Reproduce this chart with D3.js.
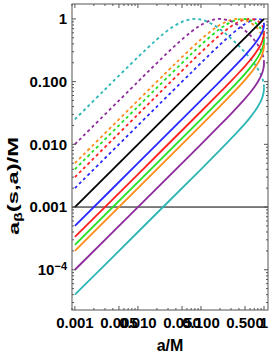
<!DOCTYPE html>
<html>
<head>
<meta charset="utf-8">
<script src="https://cdn.jsdelivr.net/npm/d3@7"></script>
<style>
  body { margin: 0; background: #fff; }
  text { font-family: "Liberation Sans", Arial, sans-serif; font-weight: bold; fill: #000; }
</style>
</head>
<body>
<div class="chart"></div>
<script>
// [a/M, a_beta/M] pairs
var blueSolid = [[0.001, 0.0005], [0.01, 0.005], [0.1, 0.0501], [0.2, 0.1008], [0.3, 0.1526], [0.4, 0.2065], [0.5, 0.263], [0.6, 0.324], [0.7, 0.392], [0.8, 0.471], [0.9, 0.571], [0.95, 0.640], [0.98, 0.700], [0.995, 0.751], [1, 0.8]];
var blueDashed = [[0.001, 0.002], [0.01, 0.02], [0.05, 0.0998], [0.1, 0.1985], [0.2, 0.388], [0.3, 0.561], [0.4, 0.711], [0.5, 0.833], [0.6, 0.923], [0.7, 0.980], [0.8, 1.0], [0.9, 0.975], [0.95, 0.935], [0.98, 0.890], [0.995, 0.847], [1, 0.8]];

var redSolid = [[0.001, 0.000333], [0.01, 0.00333], [0.1, 0.0334], [0.2, 0.0673], [0.3, 0.1021], [0.4, 0.1385], [0.5, 0.1772], [0.6, 0.2195], [0.7, 0.2673], [0.8, 0.3243], [0.9, 0.4004], [0.95, 0.4561], [0.98, 0.5072], [0.995, 0.5528], [1, 0.6]];
var redDashed = [[0.001, 0.003], [0.01, 0.03], [0.05, 0.149], [0.1, 0.294], [0.2, 0.555], [0.3, 0.760], [0.4, 0.900], [0.5, 0.977], [0.6, 1.0], [0.7, 0.980], [0.8, 0.923], [0.9, 0.829], [0.95, 0.760], [0.98, 0.699], [0.995, 0.649], [1, 0.6]];

var greenSolid = [[0.001, 0.00025], [0.01, 0.0025], [0.1, 0.02506], [0.2, 0.0505], [0.3, 0.0767], [0.4, 0.1041], [0.5, 0.1334], [0.6, 0.1655], [0.7, 0.2021], [0.8, 0.2462], [0.9, 0.3059], [0.95, 0.3505], [0.98, 0.3923], [0.995, 0.4303], [1, 0.4706]];
var greenDashed = [[0.001, 0.004], [0.01, 0.04], [0.05, 0.198], [0.1, 0.3855], [0.2, 0.695], [0.3, 0.892], [0.4, 0.984], [0.47, 1.0], [0.6, 0.96], [0.7, 0.891], [0.8, 0.8], [0.9, 0.688], [0.95, 0.617], [0.98, 0.559], [0.995, 0.5135], [1, 0.4706]];

var orangeSolid = [[0.001, 0.0002], [0.01, 0.002], [0.1, 0.02005], [0.2, 0.0404], [0.3, 0.0614], [0.4, 0.0834], [0.5, 0.1069], [0.6, 0.1327], [0.7, 0.1623], [0.8, 0.198], [0.9, 0.2468], [0.95, 0.2836], [0.98, 0.3184], [0.995, 0.3504], [1, 0.3846]];
var orangeDashed = [[0.001, 0.005], [0.01, 0.05], [0.03, 0.1492], [0.05, 0.2463], [0.1, 0.4716], [0.15, 0.6603], [0.2, 0.805], [0.3, 0.966], [0.385, 1.0], [0.5, 0.9587], [0.6, 0.882], [0.7, 0.790], [0.8, 0.690], [0.9, 0.579], [0.95, 0.513], [0.98, 0.462], [0.995, 0.4216], [1, 0.3846]];

var purpleSolid = [[0.001, 0.0001], [0.01, 0.001], [0.1, 0.01002], [0.2, 0.0202], [0.3, 0.0307], [0.4, 0.0417], [0.5, 0.0536], [0.6, 0.0666], [0.7, 0.0816], [0.8, 0.0998], [0.9, 0.1249], [0.95, 0.144], [0.98, 0.1624], [0.995, 0.1795], [1, 0.198]];
var purpleDashed = [[0.001, 0.01], [0.01, 0.0998], [0.02, 0.198], [0.04, 0.385], [0.07, 0.624], [0.1, 0.801], [0.15, 0.9615], [0.2, 1.0], [0.3, 0.915], [0.4, 0.779], [0.5, 0.655], [0.6, 0.5505], [0.7, 0.462], [0.8, 0.385], [0.9, 0.311], [0.95, 0.271], [0.98, 0.241], [0.995, 0.218], [1, 0.198]];

var cyanSolid = [[0.001, 0.00004], [0.01, 0.0004], [0.1, 0.004], [0.2, 0.00808], [0.3, 0.0123], [0.4, 0.0167], [0.5, 0.0214], [0.6, 0.0267], [0.7, 0.0327], [0.8, 0.04], [0.9, 0.0501], [0.95, 0.0579], [0.98, 0.0653], [0.995, 0.0723], [1, 0.0799]];
var cyanDashed = [[0.001, 0.025], [0.003, 0.0749], [0.01, 0.246], [0.02, 0.471], [0.03, 0.658], [0.05, 0.899], [0.08, 1.0], [0.12, 0.922], [0.2, 0.685], [0.3, 0.488], [0.4, 0.370], [0.5, 0.292], [0.6, 0.237], [0.7, 0.194], [0.8, 0.159], [0.9, 0.127], [0.95, 0.110], [0.98, 0.0977], [0.995, 0.0883], [1, 0.0799]];

var diagonal = [[0.001, 0.001], [1, 1]];
var refLevel = 0.001;

var xTickValues = [0.001, 0.005, 0.01, 0.05, 0.1, 0.5, 1];
var xTickLabels = ["0.001", "0.005", "0.010", "0.050", "0.100", "0.500", "1"];
var yTickValues = [1e-4, 0.001, 0.01, 0.1, 1];
var yTickLabels = ["10^-4", "0.001", "0.010", "0.100", "1"];

var svgWidth = 273;
var svgHeight = 359;

var margin = {
  top: 4,
  right: 5,
  bottom: 49,
  left: 72
};

var width = svgWidth - margin.left - margin.right;
var height = svgHeight - margin.top - margin.bottom;

var svg = d3.select(".chart")
  .append("svg")
  .attr("width", svgWidth)
  .attr("height", svgHeight);

var chartGroup = svg.append("g")
  .attr("transform", `translate(${margin.left}, ${margin.top})`);

var xScale = d3.scaleLog().domain([0.0009, 1.157]).range([0, width]);
var yScale = d3.scaleLog().domain([2.28e-5, 1.73]).range([height, 0]);

svg.append("defs").append("clipPath")
  .attr("id", "plotClip")
  .append("rect")
  .attr("width", width)
  .attr("height", height);

var plot = chartGroup.append("g").attr("clip-path", "url(#plotClip)");

var line = d3.line()
  .x(d => xScale(d[0]))
  .y(d => yScale(d[1]))
  .curve(d3.curveCatmullRom.alpha(0.5));

var series = [
  { color: "#2a2aff", solid: blueSolid, dashed: blueDashed },
  { color: "#ff2020", solid: redSolid, dashed: redDashed },
  { color: "#22e022", solid: greenSolid, dashed: greenDashed },
  { color: "#ff8c1a", solid: orangeSolid, dashed: orangeDashed },
  { color: "#8e2b9c", solid: purpleSolid, dashed: purpleDashed },
  { color: "#2db6b6", solid: cyanSolid, dashed: cyanDashed }
];

// reference line at a_beta = 0.001
plot.append("line")
  .attr("x1", 0)
  .attr("x2", width)
  .attr("y1", yScale(refLevel))
  .attr("y2", yScale(refLevel))
  .attr("stroke", "#000")
  .attr("stroke-width", 1);

// dashed branches
series.forEach(function (s) {
  plot.append("path")
    .datum(s.dashed)
    .attr("d", line)
    .attr("fill", "none")
    .attr("stroke", s.color)
    .attr("stroke-width", 1.8)
    .attr("stroke-dasharray", "3,3");
});

plot.append("path")
  .datum(diagonal)
  .attr("d", line)
  .attr("fill", "none")
  .attr("stroke", "#000")
  .attr("stroke-width", 1.8);

// solid branches
series.forEach(function (s) {
  plot.append("path")
    .datum(s.solid)
    .attr("d", line)
    .attr("fill", "none")
    .attr("stroke", s.color)
    .attr("stroke-width", 1.8);
});

// minor tick positions (2..9 times each decade)
function minorTicks(scale, majors) {
  var d = scale.domain(), out = [];
  for (var e = -6; e <= 1; e++) {
    for (var m = 1; m <= 9; m++) {
      var v = m * Math.pow(10, e);
      if (v >= d[0] && v <= d[1] && !majors.some(t => Math.abs(t - v) / v < 1e-6)) out.push(v);
    }
  }
  return out;
}

var tickGroup = chartGroup.append("g").attr("stroke", "#555").attr("stroke-width", 1);

function drawTicks(values, len) {
  values.forEach(function (v) {
    var px = xScale(v);
    tickGroup.append("line").attr("x1", px).attr("x2", px).attr("y1", height).attr("y2", height - len);
    tickGroup.append("line").attr("x1", px).attr("x2", px).attr("y1", 0).attr("y2", len);
  });
}
function drawYTicks(values, len) {
  values.forEach(function (v) {
    var py = yScale(v);
    tickGroup.append("line").attr("x1", 0).attr("x2", len).attr("y1", py).attr("y2", py);
    tickGroup.append("line").attr("x1", width).attr("x2", width - len).attr("y1", py).attr("y2", py);
  });
}

drawTicks(xTickValues, 4);
drawTicks(minorTicks(xScale, xTickValues), 2);
drawYTicks(yTickValues, 4);
drawYTicks(minorTicks(yScale, yTickValues), 2);

// frame
chartGroup.append("rect")
  .attr("width", width)
  .attr("height", height)
  .attr("fill", "none")
  .attr("stroke", "#555")
  .attr("stroke-width", 1);

// x tick labels
chartGroup.selectAll(".xlab")
  .data(xTickValues)
  .enter()
  .append("text")
  .attr("class", "xlab")
  .attr("x", d => xScale(d))
  .attr("y", height + 18)
  .attr("text-anchor", "middle")
  .style("font-size", "15px")
  .text((d, i) => xTickLabels[i]);

// y tick labels
chartGroup.selectAll(".ylab")
  .data(yTickValues)
  .enter()
  .append("text")
  .attr("class", "ylab")
  .attr("x", -5)
  .attr("y", d => yScale(d))
  .attr("dy", "0.36em")
  .attr("text-anchor", "end")
  .style("font-size", "15px")
  .each(function (d, i) {
    var label = yTickLabels[i];
    var t = d3.select(this);
    if (label.indexOf("^") > -1) {
      var parts = label.split("^");
      t.append("tspan").text(parts[0]);
      t.append("tspan").attr("dy", "-0.45em").style("font-size", "11px").text(parts[1].replace("-", "\u2212"));
    } else {
      t.text(label);
    }
  });

// axis titles
chartGroup.append("text")
  .attr("x", width / 2)
  .attr("y", height + 41)
  .attr("text-anchor", "middle")
  .style("font-size", "16px")
  .text("a/M");

var yTitle = chartGroup.append("text")
  .attr("transform", `translate(${19 - margin.left}, ${186 - margin.top}) rotate(-90)`)
  .attr("text-anchor", "middle")
  .attr("textLength", 98)
  .attr("lengthAdjust", "spacingAndGlyphs")
  .style("font-size", "15px");
yTitle.append("tspan").text("a");
yTitle.append("tspan").attr("dy", "0.3em").style("font-size", "10px").text("\u03b2");
yTitle.append("tspan").attr("dy", "-0.3em").text("(s,a)/M");
</script>
</body>
</html>
